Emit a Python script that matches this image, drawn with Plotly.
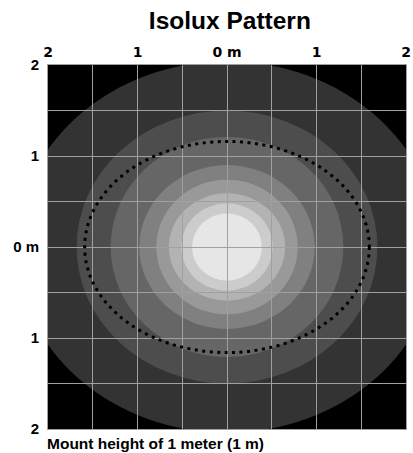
import plotly.graph_objects as go

# Tick positions (meters) and labels
tick_vals = [-2, -1.5, -1, -0.5, 0, 0.5, 1, 1.5, 2]
tick_text = ["2", "", "1", "", "0 m", "", "1", "", "2"]

# Isolux contour ellipses (semi-axes in meters), outermost to innermost
semi_x = [2.35, 1.68, 1.30, 0.98, 0.79, 0.65, 0.51, 0.39]
semi_y = [2.04, 1.50, 1.21, 0.90, 0.74, 0.59, 0.48, 0.37]
shades = ["#333333", "#4d4d4d", "#666666", "#808080",
          "#999999", "#b3b3b3", "#cccccc", "#e6e6e6"]

# Dotted reference ellipse (semi-axes in meters)
dotted_x = 1.59
dotted_y = 1.16

FONT = "Liberation Sans, Arial, sans-serif"
FONT_WIDE = "DejaVu Sans, Liberation Sans, Arial, sans-serif"

fig = go.Figure()
fig.add_trace(go.Scatter(x=[0], y=[0], mode="markers",
                         marker=dict(opacity=0), hoverinfo="skip",
                         showlegend=False))

shapes = []
for a, b, c in zip(semi_x, semi_y, shades):
    shapes.append(dict(type="circle", xref="x", yref="y",
                       x0=-a, x1=a, y0=-b, y1=b,
                       fillcolor=c, line=dict(width=0), layer="below"))
shapes.append(dict(type="circle", xref="x", yref="y",
                   x0=-dotted_x, x1=dotted_x, y0=-dotted_y, y1=dotted_y,
                   fillcolor="rgba(0,0,0,0)",
                   line=dict(color="black", width=3, dash="3px,4.5px"),
                   layer="above"))

grid = "#a0a0a0"
fig.update_layout(
    width=413, height=453,
    margin=dict(l=48, r=2, t=65, b=24),
    paper_bgcolor="white",
    plot_bgcolor="black",
    shapes=shapes,
    showlegend=False,
    title=dict(text="<b>Isolux Pattern</b>", x=0.508, xref="paper",
               xanchor="center", y=1 - 20 / 453, yref="container",
               yanchor="middle",
               font=dict(family=FONT, size=24.5, color="black")),
    xaxis=dict(range=[-2, 2], side="top", tickvals=tick_vals,
               ticktext=tick_text, ticks="", showgrid=True,
               gridcolor=grid, gridwidth=1, zeroline=False,
               showline=True, linecolor=grid, linewidth=1, mirror=True,
               ticklabelstandoff=1, ticklabeloverflow="allow",
               tickfont=dict(family=FONT_WIDE, size=14, color="black",
                             weight="bold"),
               fixedrange=True),
    yaxis=dict(range=[-2, 2], tickvals=tick_vals, ticktext=tick_text,
               ticks="", showgrid=True, gridcolor=grid, gridwidth=1,
               zeroline=False, showline=True, linecolor=grid, linewidth=1,
               mirror=True, ticklabelstandoff=5, ticklabeloverflow="allow",
               tickfont=dict(family=FONT, size=15, color="black",
                             weight="bold"),
               fixedrange=True),
    annotations=[dict(text="<b>Mount height of 1 meter (1 m)</b>",
                      xref="paper", yref="paper", x=0, y=0,
                      xanchor="left", yanchor="top", yshift=-4, xshift=-3,
                      showarrow=False,
                      font=dict(family=FONT, size=15.5, color="black"))],
)

fig.write_html("out.html",
               config={"displayModeBar": False},
               post_script="document.body.style.margin='0';"
                           "document.body.style.overflow='hidden';")
